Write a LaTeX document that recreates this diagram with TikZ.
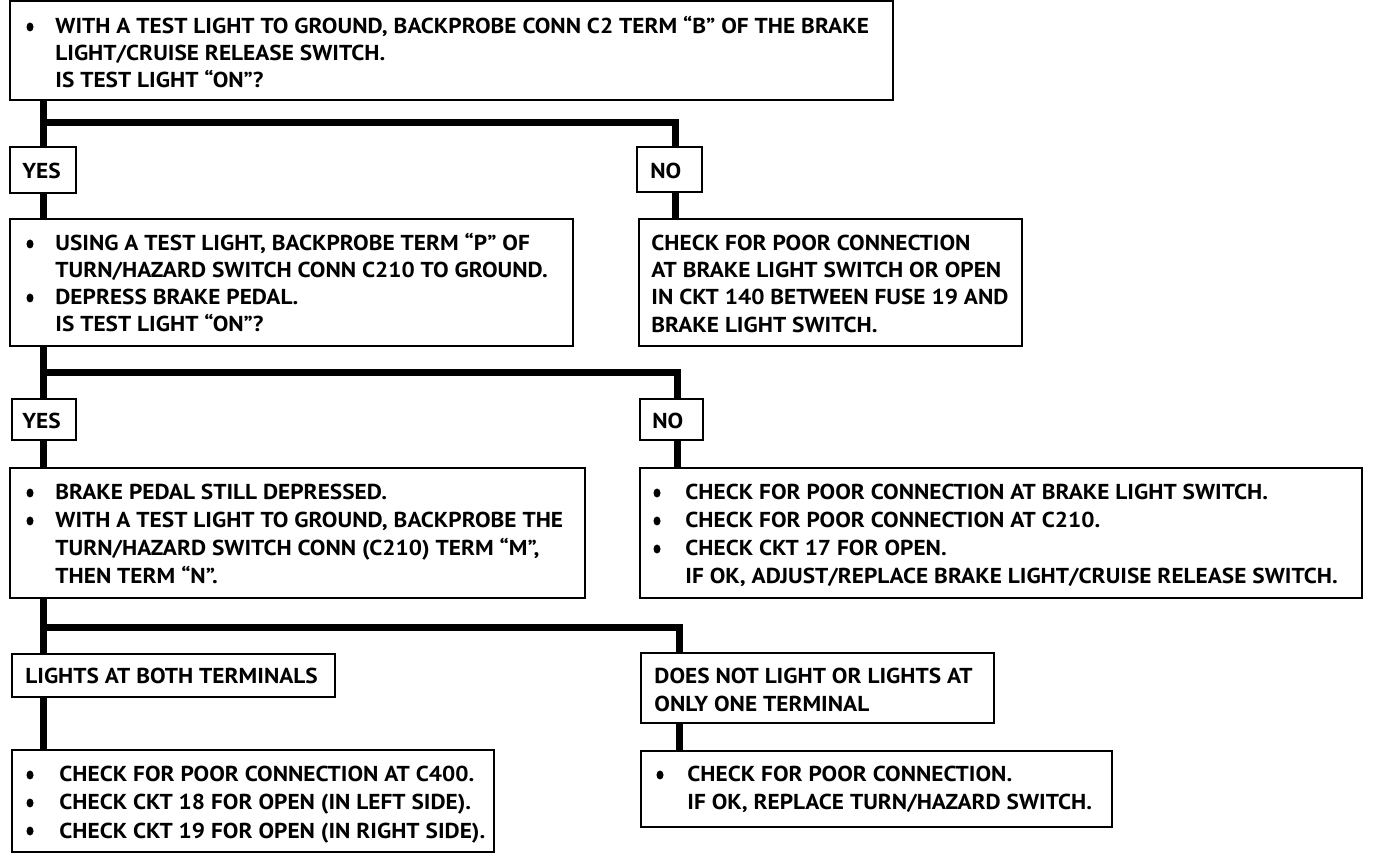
\documentclass[tikz,border=0pt]{standalone}
\usepackage{fontspec}
\setmainfont{PT Sans}[FakeStretch=1.08]
\usetikzlibrary{fit}
\tikzset{
  box/.style={draw, line width=1.25pt, fill=white, inner sep=0pt},
  bus/.style={line width=3.5pt, line join=miter},
  txt/.style={anchor=base west, inner sep=0pt, font=\bfseries\fontsize{10.8pt}{13pt}\selectfont},
  dot/.style={fill=black}
}
\begin{document}
\begin{tikzpicture}[x=0.5pt,y=-0.5pt]
\useasboundingbox (0,0) rectangle (1376,854);
% boxes
\node[box, fit={(10,1) (893,100)}] (q1) {};
\node[box, fit={(10,147) (76,193)}] (yes1) {};
\node[box, fit={(637,147) (702,192)}] (no1) {};
\node[box, fit={(10,219) (573,346)}] (q2) {};
\node[box, fit={(639,219) (1022,346)}] (a1) {};
\node[box, fit={(12,399) (76,440)}] (yes2) {};
\node[box, fit={(640,399) (703,440)}] (no2) {};
\node[box, fit={(10,468) (585,598)}] (q3) {};
\node[box, fit={(640,468) (1362,598)}] (a2) {};
\node[box, fit={(12,654) (335,697)}] (both) {};
\node[box, fit={(641,653) (994,723)}] (one) {};
\node[box, fit={(12,750) (494,852)}] (a3) {};
\node[box, fit={(641,751) (1112,827)}] (a4) {};
% bus coordinates
\coordinate (b1l) at (43,123);
\coordinate (b1r) at (675,123);
\coordinate (b2l) at (43,373);
\coordinate (b2r) at (677,373);
\coordinate (b3l) at (43,628);
\coordinate (b3r) at (679,628);
% connectors
\draw[bus] (q1.south -| b1l) -- (yes1.north -| b1l);
\draw[bus] (yes1.south -| b1l) -- (q2.north -| b1l);
\draw[bus] (b1l) -- (b1r) -- (no1.north -| b1r);
\draw[bus] (no1.south -| b1r) -- (a1.north -| b1r);
\draw[bus] (q2.south -| b2l) -- (yes2.north -| b2l);
\draw[bus] (yes2.south -| b2l) -- (q3.north -| b2l);
\draw[bus] (b2l) -- (b2r) -- (no2.north -| b2r);
\draw[bus] (no2.south -| b2r) -- (a2.north -| b2r);
\draw[bus] (q3.south -| b3l) -- (both.north -| b3l);
\draw[bus] (both.south -| b3l) -- (a3.north -| b3l);
\draw[bus] (b3l) -- (b3r) -- (one.north -| b3r);
\draw[bus] (one.south -| b3r) -- (a4.north -| b3r);
% bullets
\foreach \x/\y in {30/27, 30/244, 30/298, 30/493, 30/521, 657/493, 657/521, 657/549, 30/775, 30/803, 30/831, 660/775}
  \fill[dot] (\x,\y) ellipse (3.5 and 4.5);
% texts
\node[txt] (t1a) at (55,34) {WITH A TEST LIGHT TO GROUND, BACKPROBE CONN C2 TERM “B” OF THE BRAKE};
\node[txt] (t1b) at (55,61) {LIGHT/CRUISE RELEASE SWITCH.};
\node[txt] (t1c) at (55,88) {IS TEST LIGHT “ON”?};
\node[txt] (ty1) at (22,179) {YES};
\node[txt] (tn1) at (650,179) {NO};
\node[txt] (t2a) at (55,251) {USING A TEST LIGHT, BACKPROBE TERM “P” OF};
\node[txt] (t2b) at (55,278) {TURN/HAZARD SWITCH CONN C210 TO GROUND.};
\node[txt] (t2c) at (55,305) {DEPRESS BRAKE PEDAL.};
\node[txt] (t2d) at (55,332) {IS TEST LIGHT “ON”?};
\node[txt] (t3a) at (651,251) {CHECK FOR POOR CONNECTION};
\node[txt] (t3b) at (651,278) {AT BRAKE LIGHT SWITCH OR OPEN};
\node[txt] (t3c) at (651,305) {IN CKT 140 BETWEEN FUSE 19 AND};
\node[txt] (t3d) at (651,333) {BRAKE LIGHT SWITCH.};
\node[txt] (ty2) at (22,429) {YES};
\node[txt] (tn2) at (652,429) {NO};
\node[txt] (t4a) at (55,500) {BRAKE PEDAL STILL DEPRESSED.};
\node[txt] (t4b) at (55,528) {WITH A TEST LIGHT TO GROUND, BACKPROBE THE};
\node[txt] (t4c) at (55,556) {TURN/HAZARD SWITCH CONN (C210) TERM “M”,};
\node[txt] (t4d) at (55,584) {THEN TERM “N”.};
\node[txt] (t5a) at (685,500) {CHECK FOR POOR CONNECTION AT BRAKE LIGHT SWITCH.};
\node[txt] (t5b) at (685,528) {CHECK FOR POOR CONNECTION AT C210.};
\node[txt] (t5c) at (685,556) {CHECK CKT 17 FOR OPEN.};
\node[txt] (t5d) at (685,584) {IF OK, ADJUST/REPLACE BRAKE LIGHT/CRUISE RELEASE SWITCH.};
\node[txt] (t6a) at (25,684) {LIGHTS AT BOTH TERMINALS};
\node[txt] (t7a) at (654,684) {DOES NOT LIGHT OR LIGHTS AT};
\node[txt] (t7b) at (654,712) {ONLY ONE TERMINAL};
\node[txt] (t8a) at (59,782) {CHECK FOR POOR CONNECTION AT C400.};
\node[txt] (t8b) at (59,810) {CHECK CKT 18 FOR OPEN (IN LEFT SIDE).};
\node[txt] (t8c) at (59,838) {CHECK CKT 19 FOR OPEN (IN RIGHT SIDE).};
\node[txt] (t9a) at (687,782) {CHECK FOR POOR CONNECTION.};
\node[txt] (t9b) at (687,810) {IF OK, REPLACE TURN/HAZARD SWITCH.};
\end{tikzpicture}
\end{document}
